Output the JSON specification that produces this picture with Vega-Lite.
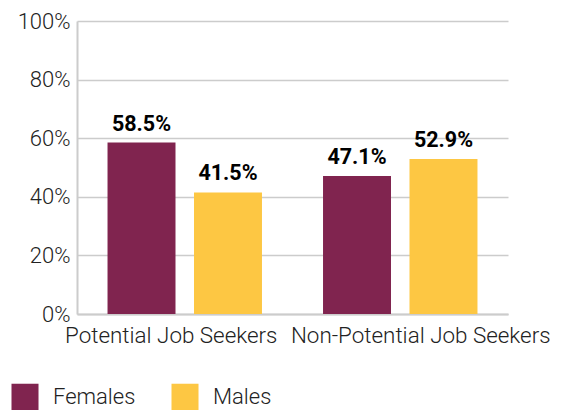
{
  "$schema": "https://vega.github.io/schema/vega-lite/v6.json",
  "width": 431,
  "height": 293,
  "autosize": {"type": "none"},
  "padding": {"left": 77, "top": 21, "right": 59, "bottom": 96},
  "background": "white",
  "config": {
    "view": {"stroke": null},
    "font": "Roboto"
  },
  "data": {
    "values": [
      {"group": "Potential Job Seekers", "sex": "Females", "value": 58.5},
      {"group": "Potential Job Seekers", "sex": "Males", "value": 41.5},
      {"group": "Non-Potential Job Seekers", "sex": "Females", "value": 47.1},
      {"group": "Non-Potential Job Seekers", "sex": "Males", "value": 52.9}
    ]
  },
  "encoding": {
    "x": {
      "field": "group",
      "type": "nominal",
      "sort": ["Potential Job Seekers", "Non-Potential Job Seekers"],
      "scale": {"paddingInner": 0, "paddingOuter": 0},
      "axis": {
        "title": null,
        "labelAngle": 0,
        "labelFont": "Roboto",
        "labelFontWeight": 300,
        "labelFontSize": 22.4,
        "labelColor": "#222222",
        "labelPadding": 10,
        "labelLimit": 0,
        "labelOverlap": false,
        "labelOffset": {"condition": {"test": "datum.value == 'Potential Job Seekers'", "value": -13.5}, "value": 20.5},
        "ticks": false,
        "domain": true,
        "domainColor": "#cccccc",
        "domainWidth": 2
      }
    },
    "xOffset": {
      "field": "sex",
      "type": "nominal",
      "scale": {"paddingInner": 0.214, "paddingOuter": 0.353}
    },
    "y": {
      "field": "value",
      "type": "quantitative",
      "scale": {"domain": [0, 100]},
      "axis": {
        "title": null,
        "values": [0, 20, 40, 60, 80, 100],
        "labelExpr": "datum.value + '%'",
        "labelFont": "Roboto",
        "labelFontWeight": 300,
        "labelFontSize": 22,
        "labelColor": "#222222",
        "labelPadding": 7,
        "ticks": false,
        "domainColor": "#cccccc",
        "domainWidth": 2,
        "gridColor": "#cccccc",
        "gridWidth": 1.5
      }
    }
  },
  "layer": [
    {
      "mark": {"type": "bar"},
      "encoding": {
        "color": {
          "field": "sex",
          "type": "nominal",
          "scale": {"domain": ["Females", "Males"], "range": ["#80244F", "#FDC743"]},
          "legend": {
            "title": null,
            "orient": "none",
            "legendX": -66,
            "legendY": 362,
            "direction": "horizontal",
            "symbolType": "square",
            "symbolSize": 730,
            "symbolStrokeWidth": 0,
            "labelFont": "Roboto",
            "labelFontWeight": 300,
            "labelFontSize": 22,
            "labelColor": "#222222",
            "labelOffset": 14,
            "columnPadding": 35
          }
        }
      }
    },
    {
      "mark": {
        "type": "text",
        "baseline": "bottom",
        "dy": -7,
        "fontSize": 21.5,
        "fontWeight": "bold",
        "font": "Roboto",
        "color": "black",
        "text": {"expr": "format(datum.value, '.1f') + '%'"}
      },
      "encoding": {}
    }
  ]
}
